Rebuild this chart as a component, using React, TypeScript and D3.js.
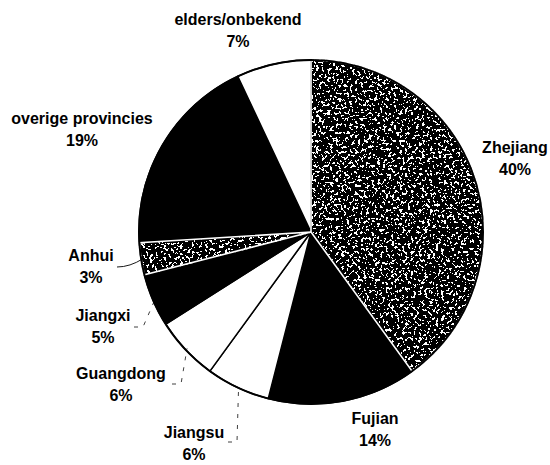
import React from 'react';
import * as d3 from 'd3';

// share of each origin, clockwise from 12 o'clock
const labels = ['Zhejiang', 'Fujian', 'Jiangsu', 'Guangdong', 'Jiangxi', 'Anhui', 'overige provincies', 'elders/onbekend'];
const values = [40, 14, 6, 6, 5, 3, 19, 7];
const fills = ['texture', 'black', 'white', 'white', 'black', 'texture', 'black', 'white'];

const W = 550;
const H = 465;
const cx = 311;
const cy = 232;
const R = 172;

// label centres (x, y of first line)
const labelXY: [number, number][] = [
  [515, 147], [375, 418], [194, 432], [121, 373], [103, 315], [91, 255], [82, 118], [238, 19],
];
// leader start (next to label); null = no leader
const leaderFrom: ([number, number] | null)[] = [
  null, null, [228, 442], [172, 384], [134, 327], [117, 267], null, null,
];

const App: React.FC = () => {
  const pie = d3.pie<number>().sort(null).value(d => d)(values);
  const arc = d3.arc<d3.PieArcDatum<number>>().innerRadius(0).outerRadius(R);
  const font = '"Liberation Sans", Arial, sans-serif';
  const table = '0 0 0 0 0 0 0 0 0 0 0 0 1 1 1 1 1 1 1 1';

  return (
    <svg width={W} height={H} style={{ position: 'absolute', left: 0, top: 0, background: '#fff' }}>
      <defs>
        <filter id="grain" x="-10%" y="-10%" width="120%" height="120%">
          <feTurbulence type="fractalNoise" baseFrequency="0.36" numOctaves="3" seed="7" result="t" />
          <feColorMatrix in="t" type="matrix"
            values="1 0 0 0 0  1 0 0 0 0  1 0 0 0 0  0 0 0 0 1" result="g" />
          <feComponentTransfer in="g" result="th">
            <feFuncR type="discrete" tableValues={table} />
            <feFuncG type="discrete" tableValues={table} />
            <feFuncB type="discrete" tableValues={table} />
          </feComponentTransfer>
          <feComposite in="th" in2="SourceGraphic" operator="in" />
        </filter>
      </defs>
      <g transform={`translate(${cx},${cy})`}>
        {pie.map((p, i) => (
          <path key={'s' + i} d={arc(p) || ''}
            fill={fills[i] === 'texture' ? '#000' : fills[i]}
            filter={fills[i] === 'texture' ? 'url(#grain)' : undefined}
            stroke="#000" strokeWidth={1.5} strokeLinejoin="round" />
        ))}
        {pie.map((p, i) => fills[i] === 'texture' ? (
          <path key={'w' + i} d={arc(p) || ''} fill="none" stroke="#fff" strokeWidth={1.6} />
        ) : null)}
        <circle r={R} fill="none" stroke="#000" strokeWidth={2} />
      </g>
      {pie.map((p, i) => {
        const from = leaderFrom[i];
        if (!from) return null;
        const mid = (p.startAngle + p.endAngle) / 2;
        const ex = cx + Math.sin(mid) * (R - 2);
        const ey = cy - Math.cos(mid) * (R - 2);
        const elbow = from[0] + 9;
        const solid = labels[i] === 'Anhui';
        const d = solid
          ? `M${from[0]},${from[1]} Q${(from[0] + ex) / 2},${from[1]} ${ex},${ey}`
          : `M${from[0]},${from[1]} L${elbow},${from[1]} L${ex},${ey}`;
        return (
          <path key={'l' + i} d={d} fill="none" stroke="#000" strokeWidth={1}
            strokeDasharray={solid ? undefined : '4 7'} opacity={solid ? 0.9 : 0.75} />
        );
      })}
      {labels.map((name, i) => (
        <text key={'t' + i} x={labelXY[i][0]} y={labelXY[i][1]} textAnchor="middle"
          fontFamily={font} fontWeight="bold" fontSize={16} fill="#000">
          <tspan x={labelXY[i][0]} dy="0.35em">{name}</tspan>
          <tspan x={labelXY[i][0]} dy="22">{values[i]}%</tspan>
        </text>
      ))}
    </svg>
  );
};

export default App;
